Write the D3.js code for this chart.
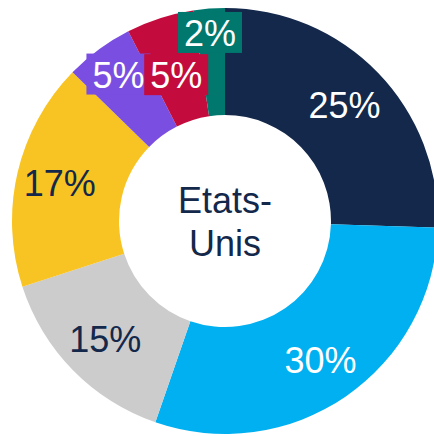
<!DOCTYPE html>
<html>
<head>
<meta charset="utf-8">
<script src="https://cdn.jsdelivr.net/npm/d3@7"></script>
<style>
  body { margin: 0; background: #fff; }
  svg { display: block; }
</style>
</head>
<body>
<svg width="434" height="436"></svg>
<script>
// slices, clockwise from 12 o'clock
var values = [25.5, 29.8, 14.7, 17.3, 5.2, 5.1, 2.4];
var labels = ["25%", "30%", "15%", "17%", "5%", "5%", "2%"];
var colors = ["#13284a", "#00b0f0", "#cccccc", "#f8c423", "#7b4ee2", "#c30c3d", "#00786e"];
var textColors = ["#fff", "#fff", "#13284a", "#13284a", "#fff", "#fff", "#fff"];
// small slices get a filled label box, and labels are nudged off the centroid
var boxed = [false, false, false, false, true, true, true];
var nudge = [[5, -5], [5, 8], [-6, 6], [-10, -2], [-12, -18], [0, 6], [-3, -29]];
var centerText = ["Etats-", "Unis"];

var canvas = d3.select("svg"),
    cx = 225,
    cy = 221,
    outerR = 213,
    innerR = 106;

var g = canvas.append("g").attr("transform", "translate(" + cx + "," + cy + ")");

var pie = d3.pie().sort(null).value(function(d) { return d; });
var arc = d3.arc().innerRadius(innerR).outerRadius(outerR);
var arcs = pie(values);

g.selectAll(".slice")
  .data(arcs)
  .enter()
  .append("path")
  .attr("class", "slice")
  .attr("d", arc)
  .attr("fill", function(d, i) { return colors[i]; });

var lab = g.selectAll(".lab")
  .data(arcs)
  .enter()
  .append("g")
  .attr("class", "lab")
  .attr("transform", function(d, i) {
    var c = arc.centroid(d);
    return "translate(" + (c[0] + nudge[i][0]) + "," + (c[1] + nudge[i][1]) + ")";
  });

lab.filter(function(d, i) { return boxed[i]; })
  .append("rect")
  .attr("x", -32)
  .attr("y", -21)
  .attr("width", 64)
  .attr("height", 41)
  .attr("fill", function(d) { return colors[d.index]; });

lab.append("text")
  .attr("text-anchor", "middle")
  .attr("dy", "0.36em")
  .style("font-family", "'Liberation Sans', Arial, sans-serif")
  .style("font-size", "36px")
  .attr("fill", function(d) { return textColors[d.index]; })
  .text(function(d) { return labels[d.index]; });

g.append("text")
  .attr("text-anchor", "middle")
  .style("font-family", "'Liberation Sans', Arial, sans-serif")
  .style("font-size", "36px")
  .attr("fill", "#13284a")
  .selectAll("tspan")
  .data(centerText)
  .enter()
  .append("tspan")
  .attr("x", 0)
  .attr("y", function(d, i) { return -8 + i * 43; })
  .text(function(d) { return d; });
</script>
</body>
</html>
